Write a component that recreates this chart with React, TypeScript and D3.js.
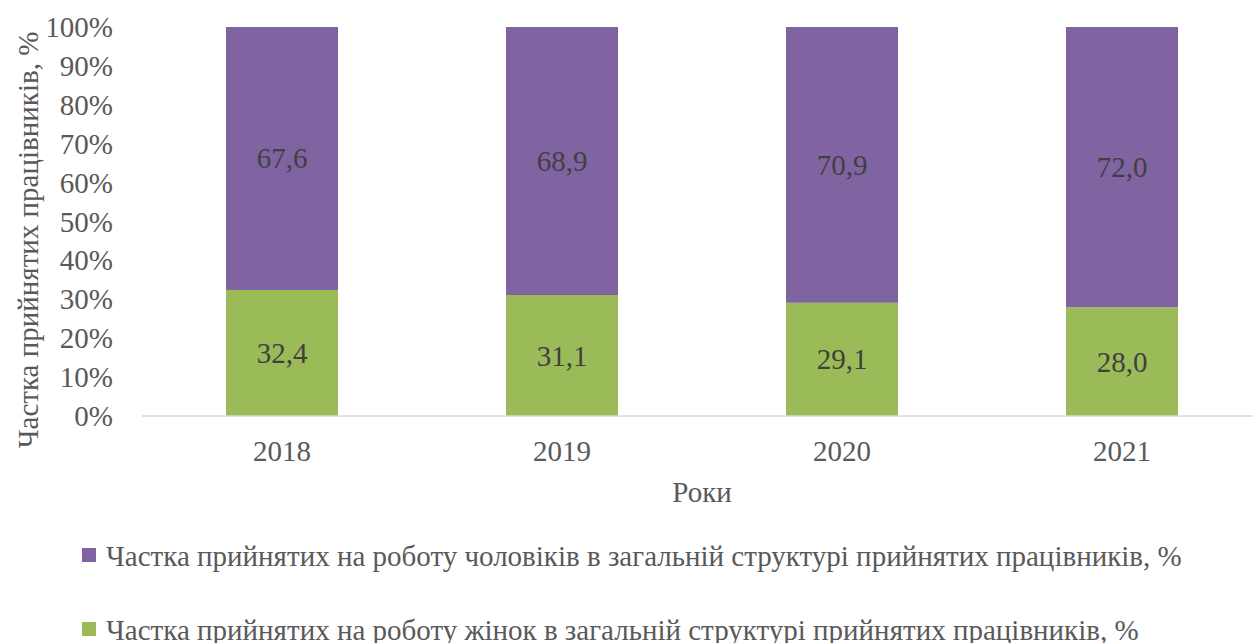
import React from "react";
import * as d3 from "d3";

const years = ["2018", "2019", "2020", "2021"];
const women = [32.4, 31.1, 29.1, 28.0];
const men = [67.6, 68.9, 70.9, 72.0];
const yTicks = [0, 10, 20, 30, 40, 50, 60, 70, 80, 90, 100];
const legendLabels = [
  "Частка прийнятих на роботу чоловіків в загальній структурі прийнятих працівників, %",
  "Частка прийнятих на роботу жінок в загальній структурі прийнятих працівників, %",
];

const W = 1253, H = 643;
const PURPLE = "#8064A2", GREEN = "#9BBB59";
const FONT = "Liberation Serif";

export default function App() {
  const x = d3.scaleBand<string>().domain(years).range([142, 1262]).paddingInner(0.6).paddingOuter(0.3);
  const y = d3.scaleLinear().domain([0, 100]).range([416, 27]);
  const fmt = (v: number) => v.toFixed(1).replace(".", ",");
  const rows = years.map((yr, i) => ({ yr, w: women[i], m: men[i] }));
  const fs = 29;
  return (
    <svg width={W} height={H} style={{ position: "absolute", left: 0, top: 0, fontFamily: FONT }}>
      <rect width={W} height={H} fill="#fff" />
      {rows.map((r) => (
        <g key={r.yr}>
          <rect x={x(r.yr)} width={x.bandwidth()} y={y(r.w)} height={y(0) - y(r.w)} fill={GREEN} />
          <rect x={x(r.yr)} width={x.bandwidth()} y={y(r.w + r.m)} height={y(r.w) - y(r.w + r.m)} fill={PURPLE} />
          <text x={x(r.yr)! + x.bandwidth() / 2} y={(y(0) + y(r.w)) / 2} textAnchor="middle" dominantBaseline="central" fontSize={fs} fill="#404040">{fmt(r.w)}</text>
          <text x={x(r.yr)! + x.bandwidth() / 2} y={(y(r.w) + y(r.w + r.m)) / 2} textAnchor="middle" dominantBaseline="central" fontSize={fs} fill="#404040">{fmt(r.m)}</text>
          <text x={x(r.yr)! + x.bandwidth() / 2} y={451} textAnchor="middle" dominantBaseline="central" fontSize={fs} fill="#595959">{r.yr}</text>
        </g>
      ))}
      <line x1={142} x2={1262} y1={y(0)} y2={y(0)} stroke="#D9D9D9" strokeWidth={1.5} />
      {yTicks.map((t) => (
        <text key={t} x={113} y={y(t)} textAnchor="end" dominantBaseline="central" fontSize={fs} fill="#595959">{t}%</text>
      ))}
      <text transform="translate(28,240) rotate(-90)" textAnchor="middle" dominantBaseline="central" fontSize={fs} fill="#595959">Частка прийнятих працівників, %</text>
      <text x={702} y={492} textAnchor="middle" dominantBaseline="central" fontSize={fs} fill="#595959">Роки</text>
      {legendLabels.map((l, i) => (
        <g key={i}>
          <rect x={82} y={548 + i * 74} width={14} height={14} fill={i === 0 ? PURPLE : GREEN} />
          <text x={106} y={556 + i * 74} dominantBaseline="central" fontSize={fs} fill="#595959">{l}</text>
        </g>
      ))}
    </svg>
  );
}
